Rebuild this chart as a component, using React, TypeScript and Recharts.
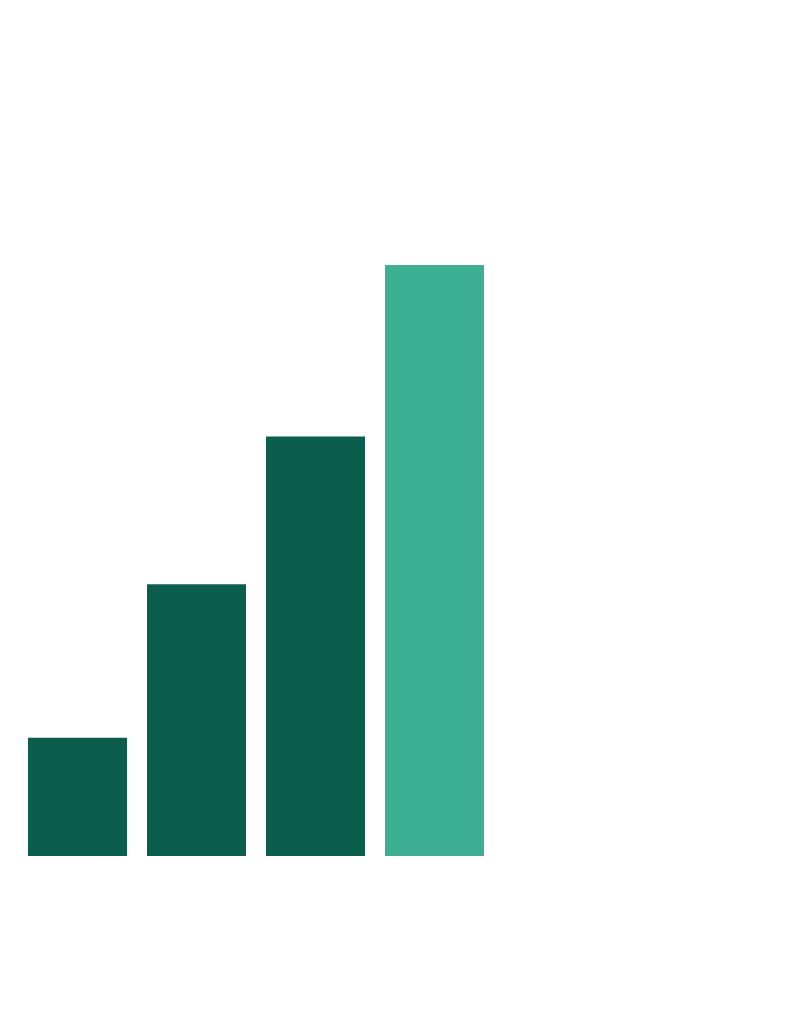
import React from 'react';
import { BarChart, Bar, XAxis, YAxis, Cell } from 'recharts';

const categories = ['A', 'B', 'C', 'D'];
const values = [20, 46, 71, 100];
const highlight = [false, false, false, true];

const data = categories.map((name, i) => ({ name, value: values[i] }));

const DARK = '#0a5e4b';
const LIGHT = '#3daf92';

export default function App() {
    return (
        <div style={{ width: 784, height: 900, background: '#fff' }}>
            <BarChart
                width={500}
                height={900}
                data={data}
                margin={{ top: 257, right: 14, bottom: 52, left: 10 }}
                barCategoryGap={10}
            >
                <XAxis dataKey="name" hide />
                <YAxis hide domain={[0, 100]} />
                <Bar dataKey="value" isAnimationActive={false}>
                    {data.map((entry, index) => (
                        <Cell key={`cell-${index}`} fill={highlight[index] ? LIGHT : DARK} />
                    ))}
                </Bar>
            </BarChart>
        </div>
    );
}
